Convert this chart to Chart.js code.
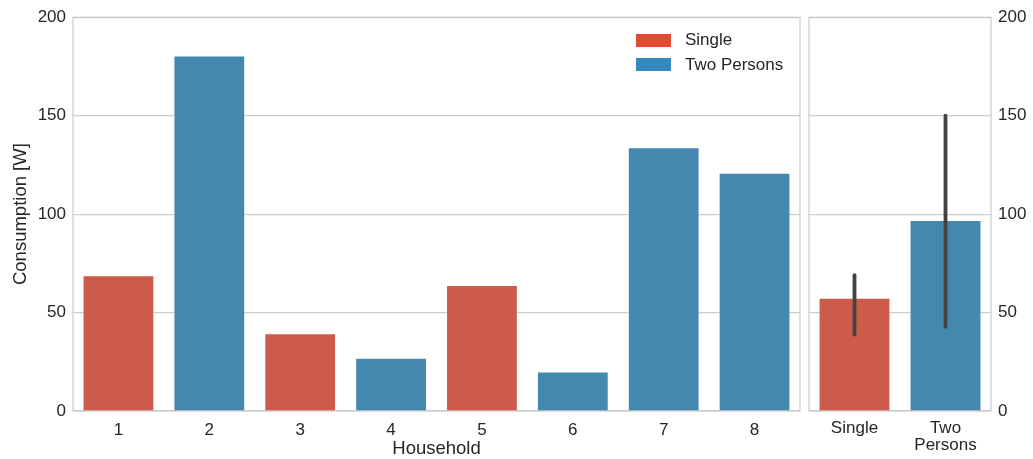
<!DOCTYPE html>
<html>
<head>
<meta charset="utf-8">
<script src="https://cdn.jsdelivr.net/npm/chart.js@4/dist/chart.umd.min.js"></script>
<style>
    body { margin: 0; background: #fff; }
    #wrap { position: relative; width: 1033px; height: 459px; font-family: 'Liberation Sans', Arial, sans-serif; }
    #left { position: absolute; left: 0; top: 0; }
    #right { position: absolute; left: 805px; top: 0; }
    #legend { position: absolute; left: 636px; top: 28px; color: #262626; font-size: 17px; }
    .item { display: flex; align-items: center; height: 24.5px; }
    .box { width: 35px; height: 13px; margin-right: 14px; }
</style>
</head>
<body>
<div id="wrap">
    <canvas id="left" width="805" height="459"></canvas>
    <canvas id="right" width="228" height="459"></canvas>
    <div id="legend"></div>
</div>
<script>
// Household data
const households = ['1', '2', '3', '4', '5', '6', '7', '8'];
const singleValues = [69, null, 39.5, null, 64, null, null, null];
const twoValues = [null, 180.5, null, 27, null, 20, 134, 121];

// Summary panel
const groups = ['Single', ['Two', 'Persons']];
const groupSingle = [57.5, null];
const groupTwo = [null, 97];
const errLow = [38.8, 42.8];
const errHigh = [69, 150];

const yTicks = [0, 50, 100, 150, 200];

const labels = ['Single', 'Two Persons'];
const legendColors = ['#E24A33', '#348ABD'];
const barColors = ['#CD5B49', '#4588AF'];

Chart.defaults.font.family = "'Liberation Sans', Arial, sans-serif";
Chart.defaults.color = '#262626';

// Draw the full box round the plot area
const frame = {
    id: 'frame',
    beforeDatasetsDraw(chart) {
        const a = chart.chartArea;
        const ctx = chart.ctx;
        ctx.save();
        ctx.strokeStyle = '#cccccc';
        ctx.lineWidth = 1.2;
        ctx.strokeRect(a.left, a.top, a.right - a.left, a.bottom - a.top);
        ctx.restore();
    }
};

// Error bars for the summary panel
const errorBars = {
    id: 'errorBars',
    afterDatasetsDraw(chart) {
        const ctx = chart.ctx;
        const y = chart.scales.y;
        ctx.save();
        ctx.strokeStyle = '#424242';
        ctx.lineWidth = 3.8;
        ctx.lineCap = 'round';
        chart.data.datasets.forEach((ds, di) => {
            const meta = chart.getDatasetMeta(di);
            ds.data.forEach((v, i) => {
                if (v === null) return;
                const x = meta.data[i].x;
                ctx.beginPath();
                ctx.moveTo(x, y.getPixelForValue(errLow[i]));
                ctx.lineTo(x, y.getPixelForValue(errHigh[i]));
                ctx.stroke();
            });
        });
        ctx.restore();
    }
};

function makeDatasets(a, b) {
    return [a, b].map((d, i) => ({
        label: labels[i],
        data: d,
        backgroundColor: barColors[i],
        borderColor: 'rgba(255,255,255,0.5)',
        borderWidth: 1,
        barPercentage: 0.79,
        categoryPercentage: 1
    }));
}

function yAxis(position, width) {
    return {
        position: position,
        min: 0,
        max: 200,
        stacked: true,
        afterBuildTicks: (s) => { s.ticks = yTicks.map(v => ({ value: v })); },
        afterFit: (s) => { s.width = width; },
        grid: { color: '#cccccc', lineWidth: 1.2, drawTicks: false },
        border: { display: false },
        ticks: { padding: 7, font: { size: 17 }, color: '#262626' }
    };
}

new Chart(document.getElementById('left'), {
    type: 'bar',
    data: { labels: households, datasets: makeDatasets(singleValues, twoValues) },
    options: {
        responsive: false,
        animation: false,
        layout: { padding: { top: 17, right: 5 } },
        plugins: { legend: { display: false }, tooltip: { enabled: false } },
        scales: {
            x: {
                stacked: true,
                grid: { display: false },
                border: { display: false },
                afterFit: (s) => { s.height = 48; },
                ticks: { padding: 1, font: { size: 17 }, color: '#262626' },
                title: { display: true, text: 'Household', font: { size: 18.5, lineHeight: 1.1 }, padding: 0, color: '#262626' }
            },
            y: Object.assign(yAxis('left', 73), {
                title: { display: true, text: 'Consumption [W]', font: { size: 18.5 }, padding: { top: 10, bottom: 0 }, color: '#262626' }
            })
        }
    },
    plugins: [frame]
});

new Chart(document.getElementById('right'), {
    type: 'bar',
    data: { labels: groups, datasets: makeDatasets(groupSingle, groupTwo) },
    options: {
        responsive: false,
        animation: false,
        layout: { padding: { top: 17, left: 4 } },
        plugins: { legend: { display: false }, tooltip: { enabled: false } },
        scales: {
            x: {
                stacked: true,
                grid: { display: false },
                border: { display: false },
                afterFit: (s) => { s.height = 48; },
                ticks: { padding: 1, font: { size: 17, lineHeight: 1.0 }, color: '#262626' }
            },
            y: yAxis('right', 42)
        }
    },
    plugins: [frame, errorBars]
});

// Legend inside the left panel
const legend = document.getElementById('legend');
labels.forEach((name, i) => {
    const row = document.createElement('div');
    row.className = 'item';
    row.innerHTML = '<span class="box" style="background:' + legendColors[i] + '"></span>' + name;
    legend.appendChild(row);
});
</script>
</body>
</html>
